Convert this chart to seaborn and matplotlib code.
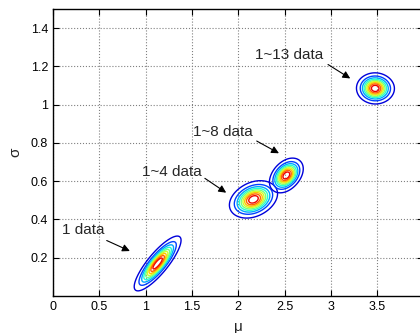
import numpy as np
import matplotlib
matplotlib.use('Agg')
import matplotlib.pyplot as plt
from matplotlib.colors import ListedColormap
import seaborn as sns

# (mu, sigma) samples
mu_1 = [1.13, 1.144, 1.202, 1.058, 1.202, 1.058, 1.238, 1.022, 1.13, 1.13, 1.108, 1.137]
sigma_1 = [0.17, 0.179, 0.227, 0.113, 0.182, 0.158, 0.222, 0.118, 0.203, 0.137, 0.164, 0.167]

mu_4 = [2.165, 2.180, 2.239, 2.091, 2.239, 2.091, 2.276, 2.054, 2.165, 2.165, 2.143, 2.172]
sigma_4 = [0.505, 0.509, 0.540, 0.470, 0.487, 0.523, 0.518, 0.492, 0.545, 0.465, 0.508, 0.498]

mu_8 = [2.52, 2.530, 2.572, 2.468, 2.572, 2.468, 2.598, 2.442, 2.52, 2.52, 2.504, 2.525]
sigma_8 = [0.63, 0.634, 0.664, 0.596, 0.616, 0.644, 0.645, 0.615, 0.666, 0.594, 0.632, 0.624]

mu_13 = [3.48, 3.49, 3.54, 3.42, 3.54, 3.42, 3.57, 3.40, 3.48, 3.48, 3.46, 3.49]
sigma_13 = [1.085, 1.087, 1.108, 1.062, 1.062, 1.108, 1.085, 1.085, 1.12, 1.05, 1.09, 1.078]

labels = ['1 data', '1~4 data', '1~8 data', '1~13 data']
x_ticks = [0, 0.5, 1, 1.5, 2, 2.5, 3, 3.5, 4]
y_ticks = [0.2, 0.4, 0.6, 0.8, 1, 1.2, 1.4]

sns.set_style('ticks')
plt.rcParams['font.family'] = ['Liberation Sans', 'DejaVu Sans']

fig = plt.figure(figsize=(4.2, 3.33), dpi=100)
ax = fig.add_axes([53 / 420, 37 / 333, 370.4 / 420, 287 / 333])

# jet without its darkest navy end, like the MATLAB contours
jet = ListedColormap(matplotlib.colormaps['jet'](np.linspace(0.08, 1.0, 256)))
clouds = [(mu_1, sigma_1), (mu_4, sigma_4), (mu_8, sigma_8), (mu_13, sigma_13)]
for mu, sigma in clouds:
    sns.kdeplot(x=mu, y=sigma, ax=ax, levels=10, thresh=0.05, bw_adjust=2,
                cmap=jet, linewidths=1.0)

# text labels with arrows pointing to each cloud
arrows = [((0.10, 0.345), (0.58, 0.29), (0.83, 0.235)),
          ((0.96, 0.65), (1.64, 0.615), (1.87, 0.54)),
          ((1.51, 0.857), (2.20, 0.81), (2.44, 0.746)),
          ((2.18, 1.257), (2.97, 1.21), (3.21, 1.137))]
for lab, (txt, tail, head) in zip(labels, arrows):
    ax.text(txt[0], txt[1], lab, fontsize=11, va='center', ha='left')
    ax.annotate('', xy=head, xytext=tail,
                arrowprops=dict(arrowstyle='-|>', color='k', lw=0.8,
                                mutation_scale=11, shrinkA=0, shrinkB=0))

ax.set_xlim(0, 4)
ax.set_ylim(0, 1.5)
ax.set_xticks(x_ticks)
ax.set_yticks(y_ticks)
ax.set_xticklabels(['%g' % t for t in x_ticks])
ax.set_yticklabels(['%g' % t for t in y_ticks])
ax.grid(True, linestyle=':', color='gray', linewidth=0.8)
ax.tick_params(direction='in', length=4, width=0.8, top=True, right=True,
               labelsize=9, pad=3.5, colors='k')
for sp in ax.spines.values():
    sp.set_visible(True)
    sp.set_color('k')
    sp.set_linewidth(1.0)

ax.set_xlabel('μ', fontsize=11, labelpad=5)
ax.set_ylabel('σ', fontsize=11, labelpad=6)

fig.savefig('out.png', dpi=100)
